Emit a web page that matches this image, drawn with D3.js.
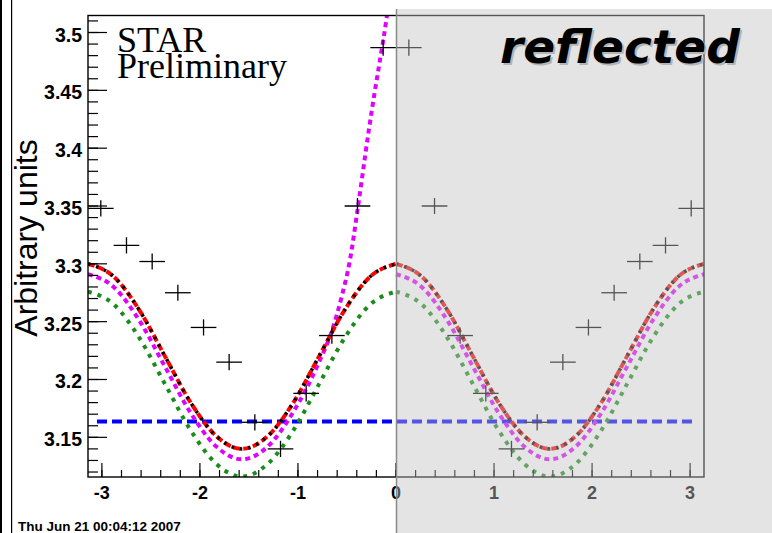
<!DOCTYPE html>
<html>
<head>
<meta charset="utf-8">
<script src="https://cdn.jsdelivr.net/npm/d3@7"></script>
<style>
  body { margin: 0; background: #fff; }
  svg { display: block; }
  .lbl { font-family: "Liberation Sans", Arial, sans-serif; font-weight: bold; fill: #000; }
</style>
</head>
<body>
<svg class="chart" width="772" height="533"></svg>
<script>
// measured bins on the negative side; the positive side is their mirror ("reflected")
const binCenters = [-3.011, -2.749, -2.487, -2.225, -1.963, -1.702, -1.440, -1.178, -0.916, -0.654, -0.393, -0.131];
const binValues = [3.348, 3.316, 3.302, 3.275, 3.245, 3.215, 3.163, 3.140, 3.188, 3.238, 3.350, 3.487];
const binErrors = [0.007, 0.007, 0.007, 0.007, 0.007, 0.007, 0.007, 0.007, 0.007, 0.007, 0.007, 0.007];
const binHalfWidth = 0.1309;

const curveX = [-3.142, -2.880, -2.618, -2.356, -2.094, -1.833, -1.571, -1.309, -1.047, -0.785, -0.524, -0.262, 0];
const redFit = [3.300, 3.289, 3.260, 3.220, 3.180, 3.151, 3.140, 3.151, 3.180, 3.220, 3.260, 3.289, 3.300];
const blackFit = [3.300, 3.289, 3.260, 3.220, 3.180, 3.151, 3.140, 3.151, 3.180, 3.220, 3.260, 3.289, 3.300];
const greenFit = [3.276, 3.265, 3.236, 3.196, 3.156, 3.127, 3.116, 3.127, 3.156, 3.196, 3.236, 3.265, 3.276];
const magentaReflected = [3.291, 3.280, 3.251, 3.211, 3.171, 3.142, 3.131, 3.142, 3.171, 3.211, 3.251, 3.280, 3.291];
const magentaX = [-3.142, -2.880, -2.618, -2.356, -2.094, -1.833, -1.571, -1.309, -1.047, -0.785, -0.65, -0.55, -0.47, -0.40, -0.34, -0.28, -0.22, -0.16, -0.10, -0.06];
const magentaFit = [3.291, 3.280, 3.251, 3.211, 3.171, 3.142, 3.131, 3.142, 3.172, 3.215, 3.243, 3.273, 3.303, 3.342, 3.378, 3.414, 3.447, 3.478, 3.510, 3.535];
const flatLevel = 3.1636;
const flatRange = [-3.05, 3.05];

const xTicks = [-3, -2, -1, 0, 1, 2, 3];
const yTicks = [3.15, 3.2, 3.25, 3.3, 3.35, 3.4, 3.45, 3.5];

const frame = { left: 88, right: 704, top: 15.5, bottom: 477 };
const xScale = d3.scaleLinear().domain([-Math.PI, Math.PI]).range([frame.left, frame.right]);
const yScale = d3.scaleLinear().domain([3.1157, 3.5147]).range([frame.bottom, frame.top]);

const svg = d3.select('.chart');

// window border lines on the left
svg.append('rect').attr('x', 0).attr('y', 0).attr('width', 2).attr('height', 533).attr('fill', '#000');
svg.append('rect').attr('x', 11).attr('y', 0).attr('width', 1.2).attr('height', 533).attr('fill', '#000');

svg.append('clipPath').attr('id', 'frameClip')
  .append('rect')
  .attr('x', frame.left).attr('y', frame.top)
  .attr('width', frame.right - frame.left).attr('height', frame.bottom - frame.top);

const plot = svg.append('g').attr('clip-path', 'url(#frameClip)');

const line = d3.line()
  .x(d => xScale(d[0]))
  .y(d => yScale(d[1]))
  .curve(d3.curveMonotoneX);

const drawCurve = (xs, ys, color, dash, width) => {
  const pts = xs.map((x, i) => [x, ys[i]]);
  plot.append('path')
    .attr('d', line(pts))
    .attr('fill', 'none').attr('stroke', color)
    .attr('stroke-width', width).attr('stroke-dasharray', dash);
};

const drawBoth = (xs, ys, color, dash, width) => {
  drawCurve(xs, ys, color, dash, width);
  drawCurve(xs.map(x => -x).reverse(), ys.slice().reverse(), color, dash, width);
};

// flat line
plot.append('path')
  .attr('d', line([[flatRange[0], flatLevel], [flatRange[1], flatLevel]]))
  .attr('fill', 'none').attr('stroke', '#0000ff')
  .attr('stroke-width', 4).attr('stroke-dasharray', '10,5');

drawBoth(curveX, greenFit, '#1a8c1a', '4,6', 4);
drawCurve(magentaX, magentaFit, '#e000ff', '5,4', 4);
drawCurve(curveX.map(x => -x).reverse(), magentaReflected.slice().reverse(), '#e000ff', '5,4', 4);
drawBoth(curveX, redFit, '#ff0000', '7,3', 4);
drawBoth(curveX, blackFit, '#000000', '2.5,6', 3.5);

// data crosses, both halves
const points = binCenters.map((c, i) => ({ x: c, y: binValues[i], e: binErrors[i] }))
  .concat(binCenters.map((c, i) => ({ x: -c, y: binValues[i], e: binErrors[i] })));

const crosses = plot.selectAll('g.cross')
  .data(points)
  .enter()
  .append('g')
  .classed('cross', true);

crosses.append('line')
  .attr('x1', d => xScale(d.x - binHalfWidth)).attr('x2', d => xScale(d.x + binHalfWidth))
  .attr('y1', d => yScale(d.y)).attr('y2', d => yScale(d.y))
  .attr('stroke', '#000').attr('stroke-width', 1.3);

crosses.append('line')
  .attr('x1', d => xScale(d.x)).attr('x2', d => xScale(d.x))
  .attr('y1', d => yScale(d.y - d.e)).attr('y2', d => yScale(d.y + d.e))
  .attr('stroke', '#000').attr('stroke-width', 1.3);

// axes: ticks inside the frame, ROOT style
const axes = svg.append('g').attr('stroke', '#000');

const yMinor = d3.range(3.12, 3.515, 0.01);
axes.selectAll('line.ymin').data(yMinor).enter().append('line')
  .attr('x1', frame.left).attr('x2', frame.left + 10)
  .attr('y1', d => yScale(d)).attr('y2', d => yScale(d))
  .attr('stroke-width', 1.2);
axes.selectAll('line.ymaj').data(yTicks).enter().append('line')
  .attr('x1', frame.left).attr('x2', frame.left + 19)
  .attr('y1', d => yScale(d)).attr('y2', d => yScale(d))
  .attr('stroke-width', 1.2);

const xMinor = d3.range(-3, 3.01, 0.2);
axes.selectAll('line.xmin').data(xMinor).enter().append('line')
  .attr('x1', d => xScale(d)).attr('x2', d => xScale(d))
  .attr('y1', frame.bottom).attr('y2', frame.bottom - 7)
  .attr('stroke-width', 1.2);
axes.selectAll('line.xmaj').data(xTicks).enter().append('line')
  .attr('x1', d => xScale(d)).attr('x2', d => xScale(d))
  .attr('y1', frame.bottom).attr('y2', frame.bottom - 14)
  .attr('stroke-width', 1.2);

svg.append('rect')
  .attr('x', frame.left).attr('y', frame.top)
  .attr('width', frame.right - frame.left).attr('height', frame.bottom - frame.top)
  .attr('fill', 'none').attr('stroke', '#000').attr('stroke-width', 1.4);

svg.selectAll('text.ylab').data(yTicks).enter().append('text')
  .classed('lbl', true)
  .attr('x', 82).attr('y', d => yScale(d) + 9)
  .attr('text-anchor', 'end').attr('font-size', 19.5)
  .text(d => d3.format('')(d));

svg.selectAll('text.xlab').data(xTicks).enter().append('text')
  .classed('lbl', true)
  .attr('x', d => xScale(d)).attr('y', 499)
  .attr('text-anchor', 'middle').attr('font-size', 18)
  .text(d => d);

svg.append('text')
  .attr('transform', 'translate(37, 238) rotate(-90)')
  .attr('text-anchor', 'middle')
  .attr('font-family', '"Liberation Sans", Arial, sans-serif')
  .attr('font-size', 32)
  .text('Arbitrary units');

svg.append('text')
  .attr('x', 18).attr('y', 531)
  .attr('font-family', '"Liberation Sans", Arial, sans-serif')
  .attr('font-weight', 'bold').attr('font-size', 13.5)
  .text('Thu Jun 21 00:04:12 2007');

svg.append('text')
  .attr('x', 117).attr('y', 52)
  .attr('font-family', '"Liberation Serif", "Times New Roman", serif')
  .attr('font-size', 36)
  .text('STAR');

svg.append('text')
  .attr('x', 117).attr('y', 78)
  .attr('font-family', '"Liberation Serif", "Times New Roman", serif')
  .attr('font-size', 36)
  .text('Preliminary');

// the reflected half is greyed out
svg.append('rect')
  .attr('x', 396).attr('y', 9).attr('width', 376).attr('height', 524)
  .attr('fill', '#c1c1c1').attr('fill-opacity', 0.44);
svg.append('line')
  .attr('x1', 396.5).attr('x2', 396.5).attr('y1', 9).attr('y2', 533)
  .attr('stroke', '#8a8a8a').attr('stroke-width', 1.5);

const tag = svg.append('g')
  .attr('font-family', '"DejaVu Sans", sans-serif')
  .attr('font-weight', 'bold').attr('font-style', 'italic')
  .attr('font-size', 47);
tag.append('text').attr('x', 502).attr('y', 65).attr('fill', '#b4b4b4').text('reflected');
tag.append('text').attr('x', 500).attr('y', 63).attr('fill', '#000').text('reflected');
</script>
</body>
</html>
